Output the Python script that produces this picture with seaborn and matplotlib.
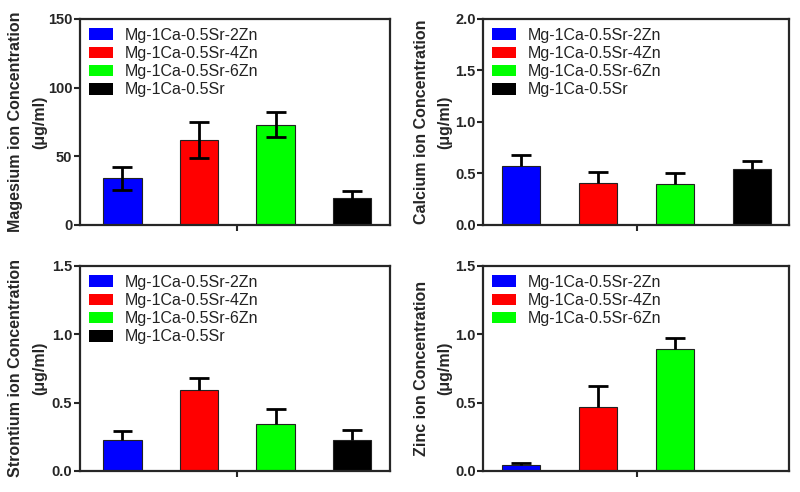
import matplotlib
matplotlib.use("Agg")
import matplotlib.pyplot as plt
from matplotlib.patches import Patch
import pandas as pd
import seaborn as sns

# alloys and colours
alloys = ["Mg-1Ca-0.5Sr-2Zn", "Mg-1Ca-0.5Sr-4Zn", "Mg-1Ca-0.5Sr-6Zn", "Mg-1Ca-0.5Sr"]
colors = ["#0000ff", "#ff0000", "#00ff00", "#000000"]

# values (mean, sd)
mg_mean = [34, 62, 73, 19.5]
mg_sd = [8.5, 13, 9, 5.3]
ca_mean = [0.57, 0.41, 0.40, 0.54]
ca_sd = [0.11, 0.10, 0.10, 0.08]
sr_mean = [0.227, 0.59, 0.344, 0.227]
sr_sd = [0.065, 0.09, 0.11, 0.075]
zn_mean = [0.044, 0.47, 0.89]
zn_sd = [0.012, 0.15, 0.08]

panels = [
    ("Magesium ion Concentration\n(\u03bcg/ml)", mg_mean, mg_sd, 150, [0, 50, 100, 150], "{:.0f}", True),
    ("Calcium ion Concentration\n(\u03bcg/ml)", ca_mean, ca_sd, 2.0, [0, 0.5, 1.0, 1.5, 2.0], "{:.1f}", False),
    ("Strontium ion Concentration\n(\u03bcg/ml)", sr_mean, sr_sd, 1.5, [0, 0.5, 1.0, 1.5], "{:.1f}", False),
    ("Zinc ion Concentration\n(\u03bcg/ml)", zn_mean, zn_sd, 1.5, [0, 0.5, 1.0, 1.5], "{:.1f}", False),
]

sns.set_style("ticks")
plt.rcParams["font.family"] = ["Liberation Sans", "DejaVu Sans"]

fig = plt.figure(figsize=(8, 4.92), dpi=100)
boxes = [
    [0.1, 0.5427, 0.3875, 0.4187],
    [0.604, 0.5427, 0.382, 0.4187],
    [0.1, 0.0427, 0.3875, 0.4167],
    [0.604, 0.0427, 0.382, 0.4167],
]
label_x = [-0.105, -0.1, -0.105, -0.1]
xlims = [(-0.555, 3.495), (-0.49, 3.475), (-0.555, 3.495), (-0.49, 3.475)]

for box, lx, xl, (ylab, mean, sd, ymax, yt, fmt, both) in zip(boxes, label_x, xlims, panels):
    ax = fig.add_axes(box)
    n = len(mean)
    df = pd.DataFrame({"alloy": alloys[:n], "val": mean})
    sns.barplot(data=df, x="alloy", y="val", hue="alloy", palette=colors[:n],
                order=alloys, hue_order=alloys[:n], width=0.5, errorbar=None,
                saturation=1, edgecolor="#222222", linewidth=0.8, legend=False, ax=ax)
    xs = list(range(n))
    top = [m + s for m, s in zip(mean, sd)]
    if both:
        ax.errorbar(xs, mean, yerr=sd, fmt="none", ecolor="black",
                    elinewidth=2, capsize=7, capthick=2, zorder=5)
    else:
        # one-sided (upper) error bars
        ax.vlines(xs, mean, top, color="black", linewidth=2, zorder=5)
        ax.hlines(top, [x - 0.13 for x in xs], [x + 0.13 for x in xs],
                  color="black", linewidth=2, zorder=5)
    ax.set_xlim(*xl)
    ax.set_ylim(0, ymax)
    ax.set_xticks([1.5])
    ax.set_xticklabels([""])
    ax.set_xlabel("")
    ax.set_yticks(yt)
    ax.set_yticklabels([fmt.format(v) for v in yt], fontsize=10.5, fontweight="bold")
    ax.set_ylabel(ylab, fontsize=11.5, fontweight="bold", linespacing=1.75)
    ax.yaxis.set_label_coords(lx, 0.5)
    ax.tick_params(axis="both", direction="out", length=4, width=1.5, pad=1.5)
    for s in ax.spines.values():
        s.set_visible(True)
        s.set_linewidth(1.6)
    handles = [Patch(facecolor=colors[i], edgecolor="none", label=alloys[i]) for i in range(n)]
    ax.legend(handles=handles, loc="upper left", bbox_to_anchor=(0.0, 1.0),
              frameon=False, fontsize=11.5, handlelength=1.5, handleheight=0.75,
              handletextpad=0.75, labelspacing=0.2, borderaxespad=0.15,
              labelcolor="#222222")

fig.savefig("out.png", dpi=100)
